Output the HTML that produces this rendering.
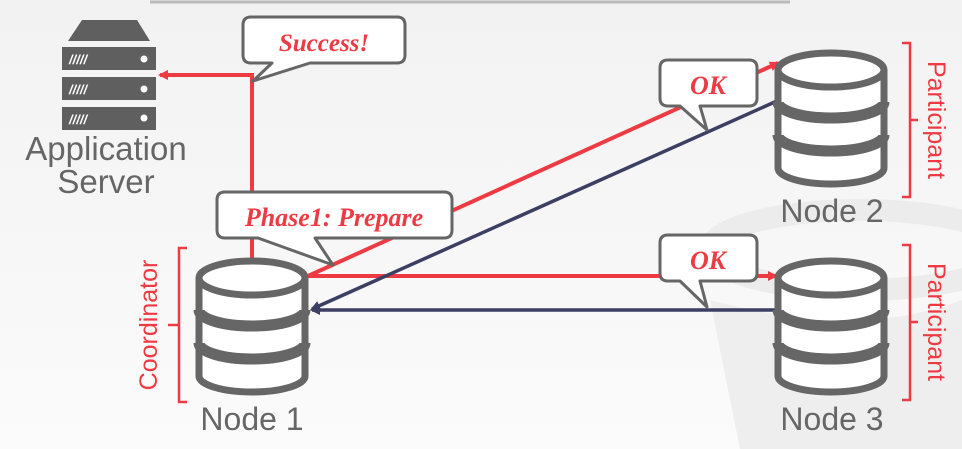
<!DOCTYPE html>
<html><head><style>
html,body{margin:0;padding:0;width:962px;height:449px;overflow:hidden;background:#f6f6f6}
svg{display:block}
</style></head><body>
<svg width="962" height="449" viewBox="0 0 962 449" xmlns="http://www.w3.org/2000/svg">
<defs>
<linearGradient id="bg" x1="0" y1="0" x2="0" y2="1"><stop offset="0" stop-color="#f2f2f2"/><stop offset="1" stop-color="#fbfbfb"/></linearGradient>
<marker id="ar" markerWidth="10" markerHeight="10" refX="8" refY="5" orient="auto" markerUnits="userSpaceOnUse"><path d="M0,0 L10,5 L0,10 z" fill="#ee3a43"/></marker>
<marker id="an" markerWidth="10" markerHeight="10" refX="8" refY="5" orient="auto" markerUnits="userSpaceOnUse"><path d="M0,0 L10,5 L0,10 z" fill="#3c3e62"/></marker>
<g id="db">
<path d="M-53,20 L-53,118 A53,16 0 0 0 53,118 L53,20" fill="#fff" stroke="#666" stroke-width="7"/>
<ellipse cx="0" cy="20" rx="53" ry="17" fill="#fff" stroke="#666" stroke-width="7"/>
<path d="M-53,52 A53,16 0 0 0 53,52" fill="none" stroke="#666" stroke-width="11"/>
<path d="M-53,85 A53,16 0 0 0 53,85" fill="none" stroke="#666" stroke-width="11"/>
</g>
</defs>
<rect width="962" height="449" fill="url(#bg)"/>
<!-- watermark -->
<ellipse cx="860" cy="250" rx="150" ry="40" fill="none" stroke="#ececec" stroke-width="22"/>
<path d="M710,300 L740,449 L962,449 L962,300 Q860,340 710,300z" fill="#eeeeee"/>
<line x1="150" y1="2" x2="790" y2="2" stroke="#bbb" stroke-width="3"/>
<!-- server -->
<path d="M68,41 L82,20 L137,20 L150,41z" fill="#5f5f5f"/>
<g fill="#5f5f5f">
<rect x="62" y="47" width="94" height="23"/><rect x="62" y="77" width="94" height="23"/><rect x="62" y="107" width="94" height="23"/>
</g>
<g fill="#fff" font-family="Liberation Sans" font-weight="bold" font-style="italic" font-size="13">
<text x="69" y="64">/////</text><text x="69" y="94">/////</text><text x="69" y="124">/////</text>
<circle cx="144" cy="59" r="3.5"/><circle cx="144" cy="89" r="3.5"/><circle cx="144" cy="118" r="3.5"/>
</g>
<text x="106" y="160" text-anchor="middle" font-family="Liberation Sans" font-size="33" fill="#666">Application</text>
<text x="106" y="193" text-anchor="middle" font-family="Liberation Sans" font-size="33" fill="#666">Server</text>
<!-- lines -->
<polyline points="252,258 252,75 160,75" fill="none" stroke="#ee3a43" stroke-width="4" marker-end="url(#ar)"/>
<line x1="308" y1="276" x2="778" y2="63" stroke="#ee3a43" stroke-width="4" marker-end="url(#ar)"/>
<line x1="308" y1="276" x2="776" y2="276" stroke="#ee3a43" stroke-width="4" marker-end="url(#ar)"/>
<line x1="777" y1="101" x2="312" y2="309" stroke="#3c3e62" stroke-width="3.5" marker-end="url(#an)"/>
<line x1="777" y1="310" x2="312" y2="310" stroke="#3c3e62" stroke-width="3.5" marker-end="url(#an)"/>
<!-- bubbles -->
<g fill="#fff" stroke="#666" stroke-width="3" stroke-linejoin="round">
<path d="M251,17 H397 Q405,17 405,25 V55 Q405,63 397,63 H310 L253,81 L272,63 H251 Q243,63 243,55 V25 Q243,17 251,17z"/>
<path d="M225,192 H444 Q452,192 452,200 V230 Q452,238 444,238 H315 L333,265 L258,238 H225 Q217,238 217,230 V200 Q217,192 225,192z"/>
<path d="M668,60 H749 Q757,60 757,68 V98 Q757,106 749,106 H700 L707,130 L680,106 H668 Q660,106 660,98 V68 Q660,60 668,60z"/>
<path d="M668,235 H749 Q757,235 757,243 V273 Q757,281 749,281 H700 L707,307 L680,281 H668 Q660,281 660,273 V243 Q660,235 668,235z"/>
</g>
<g fill="#ee3a43" font-family="Liberation Serif" font-weight="bold" font-style="italic" text-anchor="middle">
<text x="324" y="51" font-size="25">Success!</text>
<text x="334" y="226" font-size="26">Phase1: Prepare</text>
<text x="708" y="94" font-size="26">OK</text>
<text x="708" y="269" font-size="26">OK</text>
</g>
<!-- DBs -->
<use href="#db" x="252" y="258"/>
<use href="#db" x="831" y="50"/>
<use href="#db" x="831" y="258"/>
<g font-family="Liberation Sans" font-size="32" fill="#666" text-anchor="middle">
<text x="252" y="430">Node 1</text><text x="832" y="222">Node 2</text><text x="832" y="430">Node 3</text>
</g>
<!-- brackets -->
<g fill="none" stroke="#ee3a43" stroke-width="2.5">
<path d="M187,248 H179 V402 H187 M179,325 H168"/>
<path d="M902,43 H910 V197 H902 M910,120 H918"/>
<path d="M902,245 H910 V400 H902 M910,322 H918"/>
</g>
<g font-family="Liberation Sans" font-size="25" fill="#ee3a43" text-anchor="middle">
<text transform="translate(157,325) rotate(-90)">Coordinator</text>
<text transform="translate(928,120) rotate(90)">Participant</text>
<text transform="translate(928,322) rotate(90)">Participant</text>
</g>
</svg>
</body></html>
